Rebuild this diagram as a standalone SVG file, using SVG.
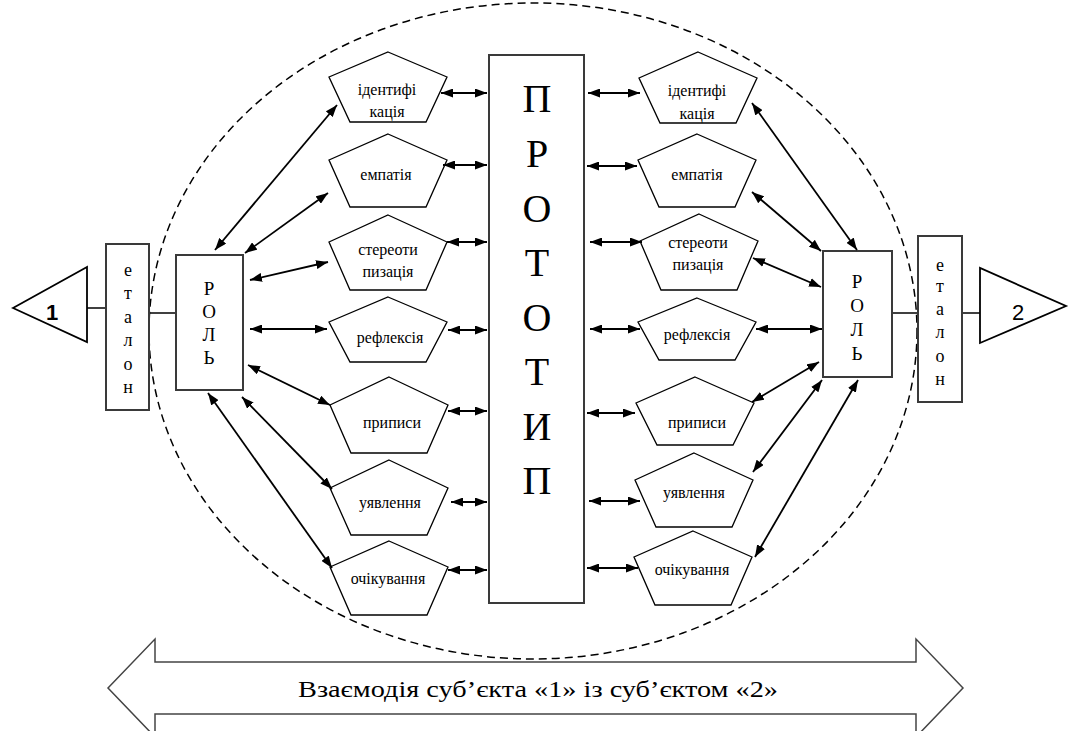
<svg xmlns="http://www.w3.org/2000/svg" width="1076" height="731" viewBox="0 0 1076 731">
<defs>
<marker id="ah" viewBox="0 0 12 9" refX="12" refY="4.5" markerWidth="12" markerHeight="9" markerUnits="userSpaceOnUse" orient="auto-start-reverse">
<path d="M0,0 L12,4.5 L0,9 z" fill="#000"/>
</marker>
</defs>
<style>
.pent{fill:#fff;stroke:#000;stroke-width:1.3}
.box{fill:#fff;stroke:#3a3a3a;stroke-width:2}
.conn line{stroke:#000;stroke-width:1.8;marker-start:url(#ah);marker-end:url(#ah)}
.plain{stroke:#000;stroke-width:1.5}
text{font-family:Liberation Serif, Times New Roman, Times, serif}
text.sans{font-family:Liberation Sans, Arial, sans-serif}
</style>
<rect width="1076" height="731" fill="#fff"/>

<ellipse id="boundary" cx="533" cy="331" rx="384" ry="328" fill="none" stroke="#000" stroke-width="1.5" stroke-dasharray="8 5"/>

<g id="interaction-arrow">
<polygon points="108,688 155,639 155,662 916,662 916,639 963,688 916,737 916,714 155,714 155,737" fill="#fff" stroke="#444" stroke-width="1.5"/>
<text x="538" y="697" font-size="24" text-anchor="middle" textLength="480" lengthAdjust="spacingAndGlyphs">Взаємодія суб’єкта «1» із суб’єктом «2»</text>
</g>

<g id="subject1">
<polygon points="13,308 87,267 87,342" fill="#fff" stroke="#000" stroke-width="1.8"/>
<text class="sans" x="52" y="320" font-size="22" font-weight="bold" text-anchor="middle">1</text>
</g>
<g id="subject2">
<polygon points="980,268 980,343 1066,306" fill="#fff" stroke="#000" stroke-width="1.8"/>
<text class="sans" x="1018" y="320" font-size="22" text-anchor="middle">2</text>
</g>

<g id="links">
<line class="plain" x1="87" y1="308" x2="106" y2="308"/>
<line class="plain" x1="149" y1="313" x2="176" y2="313"/>
<line class="plain" x1="892" y1="313" x2="918" y2="313"/>
<line class="plain" x1="962" y1="313" x2="980" y2="313"/>
</g>

<g text-anchor="middle" fill="#000">
<g id="etalon1">
<rect class="box" x="106" y="244" width="43" height="166"/>
<g font-size="18">
<text x="128" y="276">е</text><text x="128" y="299">т</text><text x="128" y="323">а</text><text x="128" y="346">л</text><text x="128" y="370">о</text><text x="128" y="393">н</text>
</g>
</g>
<g id="etalon2">
<rect class="box" x="918" y="236" width="44" height="166"/>
<g font-size="18">
<text x="940" y="271">е</text><text x="940" y="292">т</text><text x="940" y="315">а</text><text x="940" y="338">л</text><text x="940" y="362">о</text><text x="940" y="385">н</text>
</g>
</g>

<g id="role1">
<rect class="box" x="176" y="255" width="67" height="135"/>
<g font-size="19">
<text x="209" y="295">Р</text><text x="209" y="318">О</text><text x="209" y="341">Л</text><text x="209" y="364">Ь</text>
</g>
</g>
<g id="role2">
<rect class="box" x="823" y="251" width="69" height="126"/>
<g font-size="19">
<text x="857" y="288">Р</text><text x="857" y="312">О</text><text x="857" y="336">Л</text><text x="857" y="360">Ь</text>
</g>
</g>

<g id="prototype">
<rect class="box" x="489" y="55" width="95" height="548"/>
<g font-size="40">
<text x="537" y="112">П</text><text x="537" y="167">Р</text><text x="537" y="222">О</text><text x="537" y="276">Т</text><text x="537" y="331">О</text><text x="537" y="385">Т</text><text x="537" y="440">И</text><text x="537" y="494">П</text>
</g>
</g>

<g font-size="16">
<g id="l-identification">
<polygon class="pent" points="388,52 447,77 426,122 350,122 329,77"/>
<text x="387" y="95">ідентифі</text><text x="387" y="117">кація</text>
</g>
<g id="l-empathy">
<polygon class="pent" points="388,134 447,160 426,207 350,207 329,160"/>
<text x="386" y="180">емпатія</text>
</g>
<g id="l-stereotyping">
<polygon class="pent" points="388,215 447,242 426,290 350,290 329,242"/>
<text x="388" y="255">стереоти</text><text x="388" y="277">пизація</text>
</g>
<g id="l-reflection">
<polygon class="pent" points="388,297 447,322 426,362 350,362 329,322"/>
<text x="390" y="343">рефлексія</text>
</g>
<g id="l-prescriptions">
<polygon class="pent" points="389,377 448,405 427,453 351,453 330,405"/>
<text x="392" y="428">приписи</text>
</g>
<g id="l-ideas">
<polygon class="pent" points="389,460 448,488 427,535 351,535 330,488"/>
<text x="390" y="508">уявлення</text>
</g>
<g id="l-expectations">
<polygon class="pent" points="389,541 448,567 427,615 351,615 330,567"/>
<text x="388" y="584">очікування</text>
</g>

<g id="r-identification">
<polygon class="pent" points="698,52 757,78 736,123 660,123 639,78"/>
<text x="697" y="96">ідентифі</text><text x="697" y="119">кація</text>
</g>
<g id="r-empathy">
<polygon class="pent" points="697,134 756,160 735,207 659,207 638,160"/>
<text x="697" y="180">емпатія</text>
</g>
<g id="r-stereotyping">
<polygon class="pent" points="699,214 758,241 737,290 661,290 640,241"/>
<text x="698" y="248">стереоти</text><text x="698" y="270">пизація</text>
</g>
<g id="r-reflection">
<polygon class="pent" points="697,298 756,322 735,360 659,360 638,322"/>
<text x="697" y="340">рефлексія</text>
</g>
<g id="r-prescriptions">
<polygon class="pent" points="695,377 754,403 733,445 657,445 636,403"/>
<text x="697" y="428">приписи</text>
</g>
<g id="r-ideas">
<polygon class="pent" points="694,453 753,480 732,527 656,527 635,480"/>
<text x="694" y="498">уявлення</text>
</g>
<g id="r-expectations">
<polygon class="pent" points="693,531 752,557 731,605 655,605 634,557"/>
<text x="692" y="575">очікування</text>
</g>
</g>
</g>

<g id="connectors" class="conn">
<line x1="441" y1="93" x2="487" y2="93"/>
<line x1="443" y1="165" x2="487" y2="165"/>
<line x1="447" y1="242" x2="487" y2="242"/>
<line x1="448" y1="330" x2="487" y2="330"/>
<line x1="448" y1="411" x2="487" y2="411"/>
<line x1="451" y1="502" x2="487" y2="502"/>
<line x1="448" y1="570" x2="487" y2="570"/>

<line x1="588" y1="93" x2="640" y2="93"/>
<line x1="587" y1="166" x2="637" y2="166"/>
<line x1="590" y1="242" x2="642" y2="242"/>
<line x1="590" y1="329" x2="640" y2="329"/>
<line x1="587" y1="413" x2="635" y2="413"/>
<line x1="589" y1="501" x2="640" y2="501"/>
<line x1="587" y1="568" x2="638" y2="568"/>

<line x1="215" y1="250" x2="337" y2="105"/>
<line x1="245" y1="253" x2="328" y2="193"/>
<line x1="250" y1="280" x2="328" y2="262"/>
<line x1="250" y1="329" x2="327" y2="329"/>
<line x1="248" y1="365" x2="330" y2="405"/>
<line x1="242" y1="397" x2="332" y2="489"/>
<line x1="208" y1="393" x2="332" y2="568"/>

<line x1="752" y1="103" x2="857" y2="250"/>
<line x1="752" y1="192" x2="821" y2="251"/>
<line x1="753" y1="258" x2="821" y2="287"/>
<line x1="756" y1="329" x2="822" y2="329"/>
<line x1="752" y1="402" x2="819" y2="362"/>
<line x1="753" y1="472" x2="822" y2="380"/>
<line x1="755" y1="557" x2="858" y2="380"/>
</g>
</svg>
